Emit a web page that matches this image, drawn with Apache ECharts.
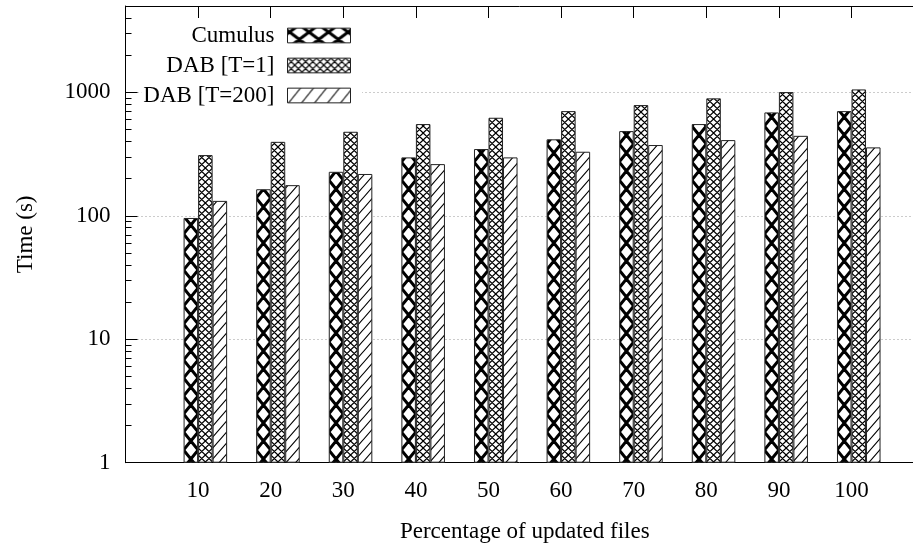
<!DOCTYPE html>
<html><head><meta charset="utf-8">
<script src="https://cdn.jsdelivr.net/npm/echarts@6/dist/echarts.min.js"></script>
<style>html,body{margin:0;padding:0;background:#fff}#c{width:913px;height:556px}</style>
</head><body><div id="c"></div>
<script>
// ---- data ----
const categories = ['10','20','30','40','50','60','70','80','90','100'];
const seriesNames = ['Cumulus','DAB [T=1]','DAB [T=200]'];
const cumulus = [96,164,227,297,347,416,485,553,687,704];
const dabT1 = [310,397,479,553,622,704,788,893,1004,1055];
const dabT200 = [132,177,218,262,297,330,374,410,444,358];
const yTickLabels = [1,10,100,1000];
const yMinorTicks = [2,3,4,5,6,7,8,9,20,30,40,50,60,70,80,90,200,300,400,500,600,700,800,900,2000,3000,4000];
const xTickPositions = categories.map((c,i)=>i+1);

// ---- layout / style ----
const FONT = 'Liberation Serif';
const W = 913, H = 556;
const UNIT = 72.6;            // px per x unit
const BAR_W = UNIT/5;         // 0.2 x units
const GRID_LEFT = 125.5, GRID_TOP = 6, GRID_H = 456.7;
const LEG_RIGHT_X = 351, LEG_PAD = [2,11,2,2];
const legendTops = [22, 52, 82];
const allSeries = [cumulus, dabT1, dabT200];

const chart = echarts.init(document.getElementById('c'), null, {renderer:'canvas', width:W, height:H});

function tile(w, h, draw){
  const c = document.createElement('canvas'); c.width = w; c.height = h;
  const ctx = c.getContext('2d'); ctx.fillStyle = '#fff'; ctx.fillRect(0,0,w,h);
  ctx.strokeStyle = '#000'; ctx.lineCap = 'butt'; draw(ctx); return c;
}
function xGrid(tw, th, cw, ch, phx, phy, lw){
  return tile(tw, th, ctx=>{
    ctx.lineWidth = lw; ctx.beginPath();
    const nx = Math.ceil(tw/cw)+3, ny = Math.ceil(th/ch)+3;
    for(let j=-2;j<nx;j++) for(let r=-2;r<ny;r++){
      const x0 = phx + j*cw, y0 = phy + r*ch;
      ctx.moveTo(x0, y0); ctx.lineTo(x0+cw, y0+ch);
      ctx.moveTo(x0+cw, y0); ctx.lineTo(x0, y0+ch);
    }
    ctx.stroke();
  });
}
function slashes(tw, th, period, slope, lw){
  return tile(tw, th, ctx=>{
    ctx.lineWidth = lw; ctx.beginPath();
    for(let n=-5;n<Math.ceil((th + slope*tw)/period)+5;n++){
      const x0 = -10, x1 = tw+10;
      ctx.moveTo(x0, n*period - slope*x0); ctx.lineTo(x1, n*period - slope*x1);
    }
    ctx.stroke();
  });
}

const axisBlack = {onZero:false, lineStyle:{color:'#000', width:1}};
function buildOption(colors, legendColors){
  return {
    animation:false, backgroundColor:'#fff',
    textStyle:{fontFamily:FONT},
    grid:{left:GRID_LEFT, top:GRID_TOP, width:UNIT*11, height:GRID_H, containLabel:false, outerBoundsMode:'none'},
    xAxis:[
      {type:'value', position:'bottom', min:0, max:11, interval:1,
       axisLine:axisBlack, axisTick:{show:false}, splitLine:{show:false},
       axisLabel:{customValues:xTickPositions, formatter:v=>categories[v-1] ?? '', fontFamily:FONT, fontSize:23, color:'#000', margin:17},
       name:'Percentage of updated files', nameLocation:'middle', nameGap:58,
       nameTextStyle:{fontFamily:FONT, fontSize:23, color:'#000'}},
      {type:'value', show:false, min:-0.1, max:10.9, axisLine:{onZero:false}},
      {type:'value', position:'top', min:0, max:11, interval:1,
       axisLine:axisBlack, axisTick:{show:true, inside:true, length:12, lineStyle:{color:'#000'}},
       axisLabel:{show:false}, splitLine:{show:false}}
    ],
    yAxis:[
      {type:'log', logBase:10, min:1, max:5000, position:'left', offset:0,
       axisLine:{show:true, onZero:false, lineStyle:{color:'#000', width:1}},
       axisTick:{show:true, inside:true, length:12, customValues:yTickLabels, lineStyle:{color:'#000'}},
       axisLabel:{customValues:yTickLabels, formatter:v=>String(v), fontFamily:FONT, fontSize:23, color:'#000', margin:15},
       splitLine:{show:true, lineStyle:{color:'#999', width:1, type:[1,3]}},
       name:'Time (s)', nameLocation:'middle', nameGap:88,
       nameTextStyle:{fontFamily:FONT, fontSize:23, color:'#000'}},
      {type:'log', logBase:10, min:1, max:5000, position:'left', offset:0,
       axisLine:{show:false, onZero:false}, axisLabel:{show:false}, splitLine:{show:false},
       axisTick:{show:true, inside:true, length:6, customValues:yMinorTicks, lineStyle:{color:'#000'}}}
    ],
    legend: seriesNames.map((n,k)=>({
      data:[{name:n, icon:'rect', itemStyle:{color:legendColors[k], borderColor:'#222', borderWidth:1}}],
      orient:'vertical', align:'right', right: W - LEG_RIGHT_X - LEG_PAD[1], top: legendTops[k],
      itemWidth:63, itemHeight:14.7, backgroundColor:'#fff', padding:LEG_PAD,
      textStyle:{fontFamily:FONT, fontSize:23, color:'#000', padding:[0,8,0,0]},
      selectedMode:false
    })),
    series: allSeries.map((vals,k)=>({
      type:'bar', name:seriesNames[k], xAxisIndex:1, yAxisIndex:0,
      data: vals.map((v,i)=>[xTickPositions[i], v]),
      barWidth:BAR_W, barGap:'0%', silent:true,
      itemStyle:{color:colors[k], borderColor:'#222', borderWidth:1}
    }))
  };
}

chart.setOption(buildOption(['#fff','#fff','#fff'], ['#fff','#fff','#fff']));
const center1 = chart.convertToPixel({xAxisIndex:1}, 1);
const leftEdge = center1 - 1.5*BAR_W;
const TW = Math.round(UNIT*5); // 363
const ph1 = ((leftEdge % BAR_W) + BAR_W) % BAR_W;
const ph2 = ((leftEdge % (BAR_W/2)) + BAR_W/2) % (BAR_W/2);
const pCum = xGrid(TW, 18, BAR_W, 18, ph1, 0, 3);
const pDab1 = xGrid(TW, 7, BAR_W/2, 7, ph2, 0, 1.2);
const pDab200 = slashes(TW, 11, 11, 38/33, 1.1);
// legend patterns
const legIconLeft = LEG_RIGHT_X - 63;
const lgCum = xGrid(39, 60, 19.5, 14.7, ((legIconLeft - 3.25) % 19.5 + 19.5) % 19.5, 26, 3);
const lgDab1 = xGrid(29, 7, 7.25, 7, 0, 0, 1.2);
const lgDab200 = slashes(13, 16, 16, 16/13, 1.1);
const mk = c => ({image:c, repeat:'repeat'});
chart.setOption(buildOption([mk(pCum), mk(pDab1), mk(pDab200)], [mk(lgCum), mk(lgDab1), mk(lgDab200)]));
</script></body></html>
